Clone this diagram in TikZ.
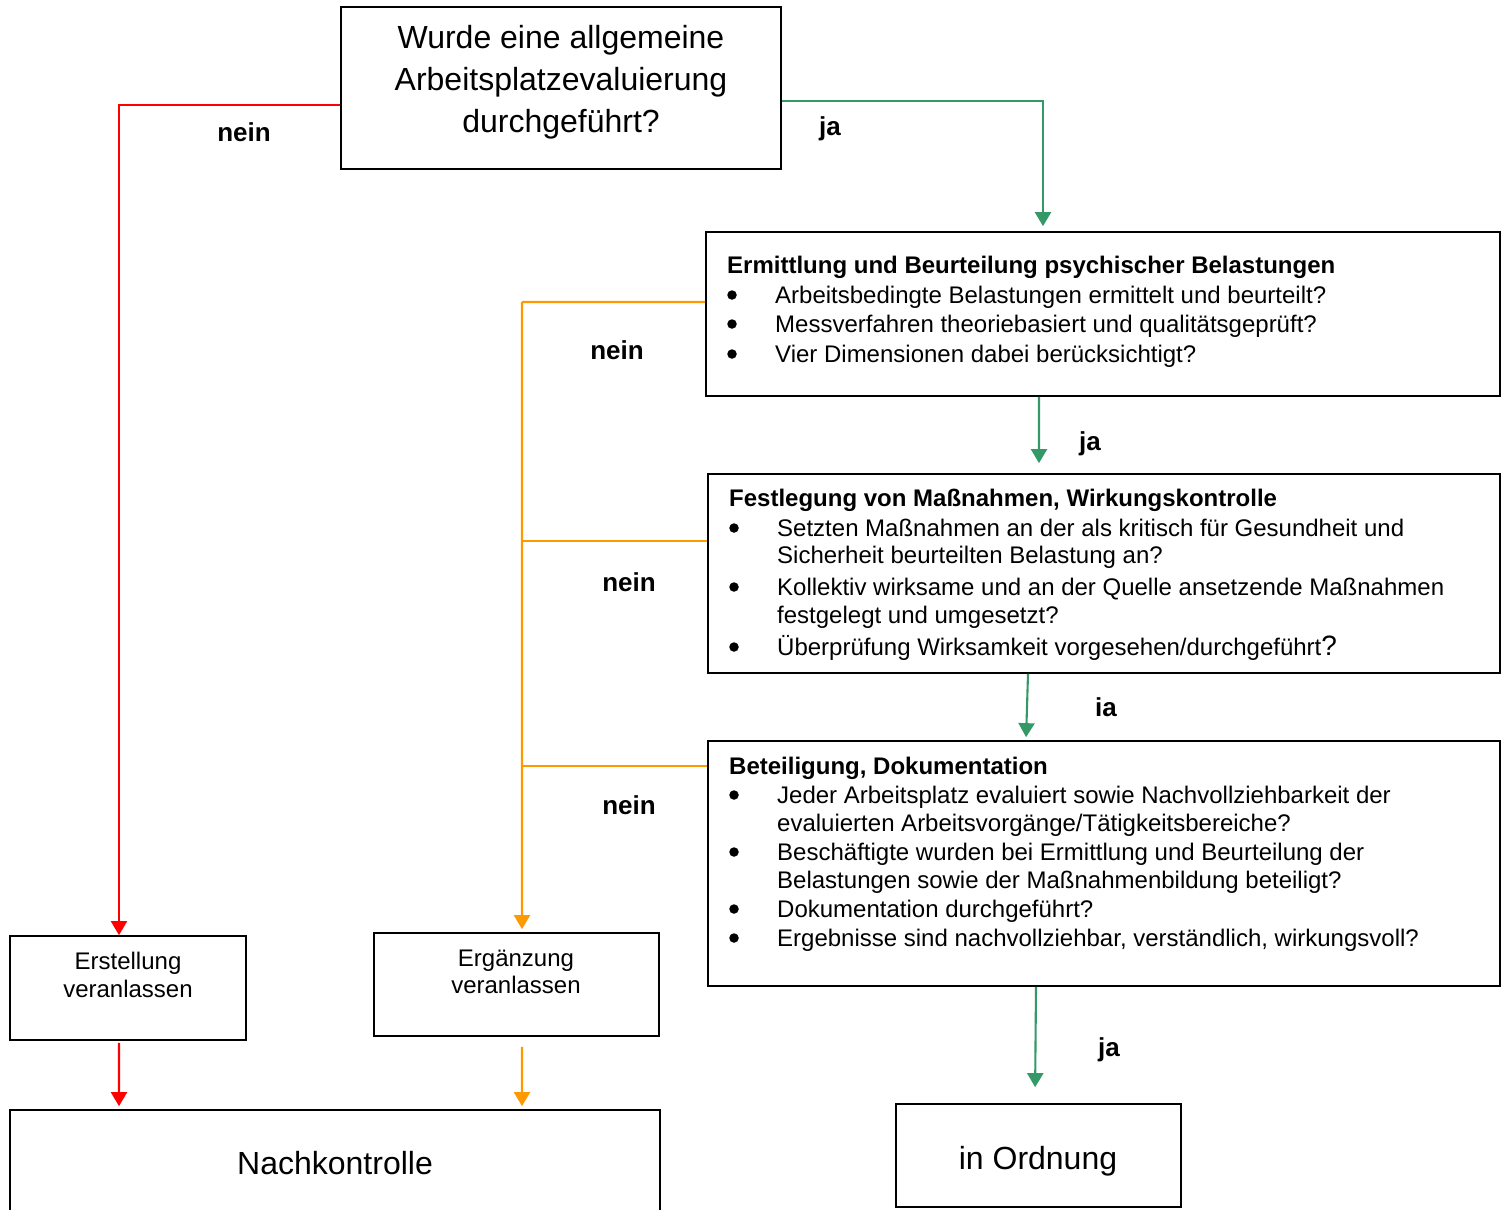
\documentclass[tikz,border=0pt]{standalone}
\usepackage{fontspec}
\setmainfont{Liberation Sans}
\usetikzlibrary{arrows.meta}
\definecolor{cred}{HTML}{FF0000}
\definecolor{cgreen}{HTML}{339966}
\definecolor{corange}{HTML}{FF9900}
\begin{document}
\begin{tikzpicture}[x=1bp,y=-1bp,
  box/.style={draw, line width=1.7bp, inner sep=0pt, rectangle},
  txt/.style={inner sep=0pt, anchor=base west, font=\fontsize{24bp}{29bp}\selectfont},
  hd/.style={inner sep=0pt, anchor=base west, font=\fontsize{24bp}{29bp}\selectfont\bfseries},
  bul/.style={circle, fill=black, inner sep=0pt, minimum size=9.5bp},
  ctr/.style={inner sep=0pt, anchor=base, font=\fontsize{24bp}{29bp}\selectfont},
  big/.style={inner sep=0pt, anchor=base, font=\fontsize{32bp}{40bp}\selectfont},
  lbl/.style={inner sep=0pt, anchor=base, font=\fontsize{26bp}{30bp}\selectfont\bfseries},
  conn/.style={line width=2.1bp, -{Triangle[length=14bp,width=16bp]}},
  wire/.style={line width=2.1bp},
]
\clip (0,0) rectangle (1508,1209);
\fill[white] (0,0) rectangle (1508,1209);

% boxes
\node[box, minimum width=440bp, minimum height=162bp] (top) at (561,88) {};
\node[box, minimum width=794bp, minimum height=164bp] (b1) at (1103,314) {};
\node[box, minimum width=792bp, minimum height=199bp] (b2) at (1104,573.5) {};
\node[box, minimum width=792bp, minimum height=245bp] (b3) at (1104,863.5) {};
\node[box, minimum width=285bp, minimum height=103bp] (ok) at (1038.5,1155.5) {};
\node[box, minimum width=650bp, minimum height=110bp] (nach) at (335,1165) {};
\node[box, minimum width=236bp, minimum height=104bp] (erst) at (128,988) {};
\node[box, minimum width=285bp, minimum height=103bp] (erg) at (516.5,984.5) {};

% top box text
\node[big] (t1) at (561,48) {Wurde eine allgemeine};
\node[big] (t2) at (561,90) {Arbeitsplatzevaluierung};
\node[big] (t3) at (561,132) {durchgeführt?};

% box 1
\node[hd] (h1) at (727,273) {Ermittlung und Beurteilung psychischer Belastungen};
\node[bul] (p11) at (732,295) {};
\node[txt] (l11) at (775,303) {Arbeitsbedingte Belastungen ermittelt und beurteilt?};
\node[bul] (p12) at (732,324) {};
\node[txt] (l12) at (775,332) {Messverfahren theoriebasiert und qualitätsgeprüft?};
\node[bul] (p13) at (732,354) {};
\node[txt] (l13) at (775,362) {Vier Dimensionen dabei berücksichtigt?};

% box 2
\node[hd] (h2) at (729,506) {Festlegung von Maßnahmen, Wirkungskontrolle};
\node[bul] (p21) at (734,528) {};
\node[txt] (l21) at (777,536) {Setzten Maßnahmen an der als kritisch für Gesundheit und};
\node[txt] (l21b) at (777,563) {Sicherheit beurteilten Belastung an?};
\node[bul] (p22) at (734,587) {};
\node[txt] (l22) at (777,595) {Kollektiv wirksame und an der Quelle ansetzende Maßnahmen};
\node[txt] (l22b) at (777,623) {festgelegt und umgesetzt?};
\node[bul] (p23) at (734,647) {};
\node[txt] (l23) at (777,655) {Überprüfung Wirksamkeit vorgesehen/durchgeführt{\fontsize{28bp}{29bp}\selectfont ?}};

% box 3
\node[hd] (h3) at (729,774) {Beteiligung, Dokumentation};
\node[bul] (p31) at (734,795) {};
\node[txt] (l31) at (777,803) {Jeder Arbeitsplatz evaluiert sowie Nachvollziehbarkeit der};
\node[txt] (l31b) at (777,831) {evaluierten Arbeitsvorgänge/Tätigkeitsbereiche?};
\node[bul] (p32) at (734,852) {};
\node[txt] (l32) at (777,860) {Beschäftigte wurden bei Ermittlung und Beurteilung der};
\node[txt] (l32b) at (777,888) {Belastungen sowie der Maßnahmenbildung beteiligt?};
\node[bul] (p33) at (734,909) {};
\node[txt] (l33) at (777,917) {Dokumentation durchgeführt?};
\node[bul] (p34) at (734,938) {};
\node[txt] (l34) at (777,946) {Ergebnisse sind nachvollziehbar, verständlich, wirkungsvoll?};

% small boxes
\node[ctr] (e1) at (128,969) {Erstellung};
\node[ctr] (e2) at (128,997) {veranlassen};
\node[ctr] (g1) at (516,966) {Ergänzung};
\node[ctr] (g2) at (516,993) {veranlassen};
\node[big] (nt) at (335,1174) {Nachkontrolle};
\node[big] (ot) at (1038,1169) {in Ordnung};

% labels
\node[lbl] (n0) at (244,141) {nein};
\node[lbl] (j0) at (830,135) {ja};
\node[lbl] (n1) at (617,359) {nein};
\node[lbl] (n2) at (629,591) {nein};
\node[lbl] (n3) at (629,814) {nein};
\node[lbl] (j1) at (1090,450) {ja};
\node[lbl] (j2) at (1106,716) {ia};
\node[lbl] (j3) at (1109,1056) {ja};

% red connectors
\draw[conn, cred] ([yshift=-17bp]top.west) -| ([xshift=-9bp]erst.north);
\draw[conn, cred, shorten <=2bp, shorten >=3bp] ([xshift=-9bp]erst.south) -- ([xshift=-216bp]nach.north);

% green connectors
\draw[conn, cgreen, shorten >=5bp] ([yshift=-13bp]top.east) -| ([xshift=-60bp]b1.north);
\draw[conn, cgreen, shorten >=10bp] ([xshift=-64bp]b1.south) -- ([xshift=-65bp]b2.north);
\draw[conn, cgreen, shorten >=3bp] ([xshift=-76bp]b2.south) -- ([xshift=-78bp]b3.north);
\draw[conn, cgreen, shorten >=16bp] ([xshift=-68bp]b3.south) -- ([xshift=-3.5bp]ok.north);

% orange connectors
\coordinate (oc) at (522,302);
\coordinate (w1) at ([yshift=12bp]b1.west);
\coordinate (w2) at ([yshift=32.5bp]b2.west);
\coordinate (w3) at ([yshift=97.5bp]b3.west);
\draw[wire, corange] (w1) -- (oc);
\draw[wire, corange] (w2) -- (oc |- w2);
\draw[wire, corange] (w3) -- (oc |- w3);
\draw[conn, corange, shorten >=3bp] (oc) -- ([xshift=5.5bp]erg.north);
\draw[conn, corange, shorten <=10bp, shorten >=3bp] ([xshift=5.5bp]erg.south) -- ([xshift=187bp]nach.north);
\end{tikzpicture}
\end{document}
